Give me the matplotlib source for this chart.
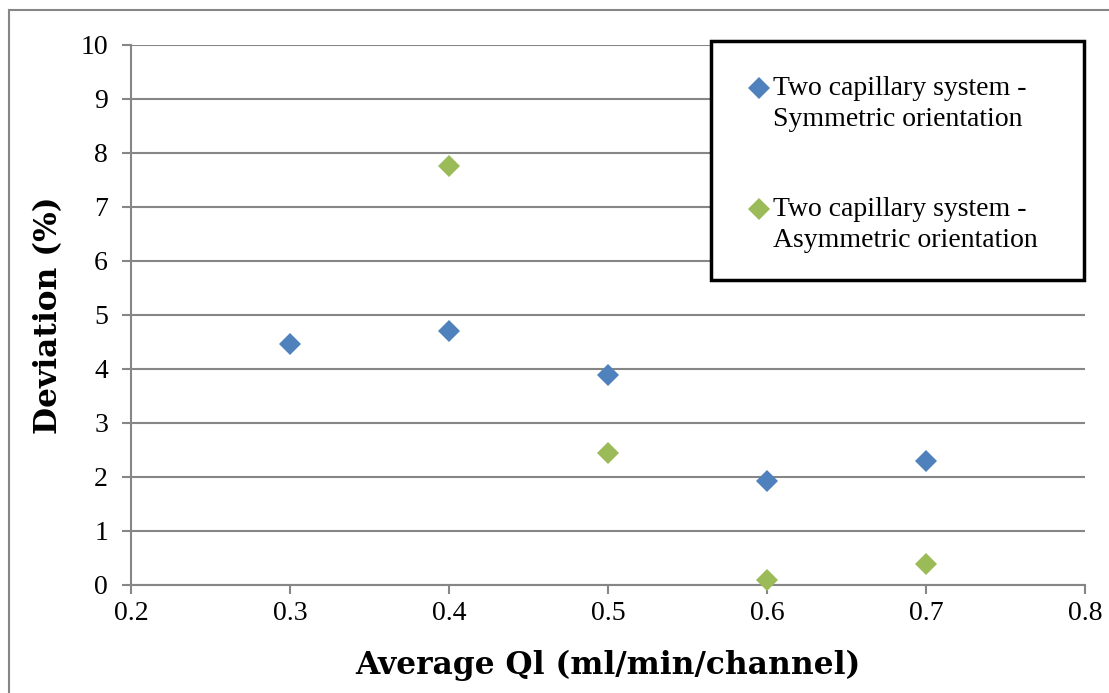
import numpy as np
import matplotlib.pyplot as plt
from matplotlib.legend_handler import HandlerLine2D
from matplotlib.lines import Line2D
from matplotlib.patches import Rectangle

# flow rate per channel (ml/min) and deviation (%) for each orientation
ql_sym = [0.3, 0.4, 0.5, 0.6, 0.7]
dev_sym = [4.46, 4.70, 3.89, 1.93, 2.30]
ql_asym = [0.4, 0.5, 0.6, 0.7]
dev_asym = [7.76, 2.44, 0.09, 0.39]

label_sym = 'Two capillary system -\nSymmetric orientation'
label_asym = 'Two capillary system -\nAsymmetric orientation'

plt.rcParams['font.family'] = ['Liberation Serif', 'DejaVu Serif']
grey = '#868686'
bold_font = dict(family='DejaVu Serif', fontsize=22.5, fontweight='bold')


class FirstLineHandler(HandlerLine2D):
    # legend marker sits beside the first line of a two-line label
    def create_artists(self, legend, orig_handle, xdescent, ydescent,
                       width, height, fontsize, trans):
        artists = super().create_artists(legend, orig_handle, xdescent,
                                         ydescent, width, height, fontsize,
                                         trans)
        for a in artists:
            a.set_ydata(np.asarray(a.get_ydata()) + 0.56 * fontsize)
        return artists


fig = plt.figure(figsize=(11.09, 6.93), dpi=100)
ax = fig.add_axes([131 / 1109, 1 - 585 / 693, 954 / 1109, 540 / 693])

sym, = ax.plot(ql_sym, dev_sym, 'D', color='#4F81BD', markersize=11,
               markeredgewidth=0, label=label_sym, clip_on=False, zorder=3)
asym, = ax.plot(ql_asym, dev_asym, 'D', color='#9BBB59', markersize=11,
                markeredgewidth=0, label=label_asym, clip_on=False, zorder=3)

ax.set_xlim(0.2, 0.8)
ax.set_ylim(0, 10)
ax.set_xticks([0.2, 0.3, 0.4, 0.5, 0.6, 0.7, 0.8])
ax.set_yticks(range(11))
ax.set_xticklabels(['0.2', '0.3', '0.4', '0.5', '0.6', '0.7', '0.8'])

ax.grid(axis='y', color=grey, linewidth=1.5)
ax.set_axisbelow(True)
for side in ['top', 'right']:
    ax.spines[side].set_visible(False)
for side in ['left', 'bottom']:
    ax.spines[side].set_color(grey)
    ax.spines[side].set_linewidth(1.5)
ax.tick_params(colors=grey, labelcolor='black', width=1.5, length=6.5,
               labelsize=20)
ax.tick_params(axis='x', pad=5)
ax.tick_params(axis='y', pad=10)

ax.set_xlabel('Average Ql (ml/min/channel)', labelpad=17, **bold_font)
ax.set_ylabel('Deviation (%)', labelpad=12, **bold_font)

# legend box with a heavy black frame
fig.add_artist(Rectangle((711 / 1109, 1 - 280 / 693), 373 / 1109, 239 / 693,
                         transform=fig.transFigure, facecolor='white',
                         edgecolor='black', linewidth=2.5, zorder=4))
first_line = FirstLineHandler()
leg = fig.legend(handles=[sym, asym], loc='upper left',
                 bbox_to_anchor=(751 / 1109, 1 - 76 / 693),
                 handler_map={sym: first_line, asym: first_line},
                 frameon=False, fontsize=20, handlelength=0.55,
                 handletextpad=0.25, labelspacing=2.35, borderpad=0,
                 borderaxespad=0)
leg.set_zorder(5)
for txt in leg.get_texts():
    txt.set_linespacing(1.3)

# outer chart border
fig.add_artist(Line2D([9 / 1109, 1], [1 - 10 / 693, 1 - 10 / 693],
                      color=grey, linewidth=1.5))
fig.add_artist(Line2D([9 / 1109, 9 / 1109], [0, 1 - 10 / 693],
                      color=grey, linewidth=1.5))

fig.savefig('out.png', dpi=100)
